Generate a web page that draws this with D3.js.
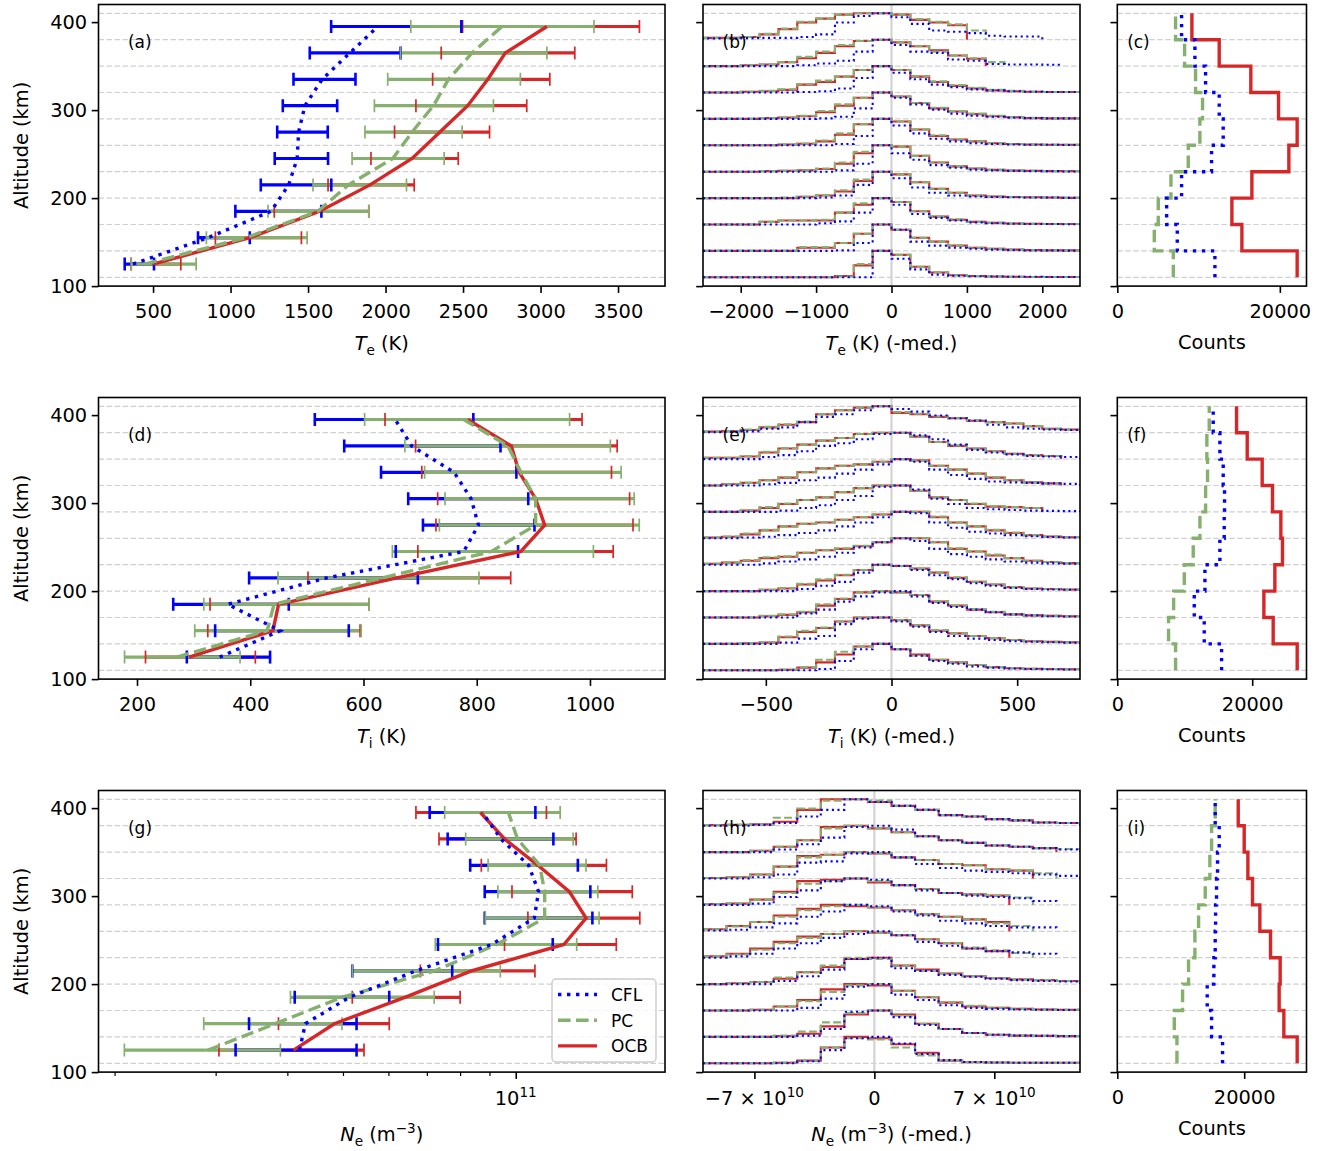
<!DOCTYPE html>
<html>
<head>
<meta charset="utf-8">
<script src="https://cdn.jsdelivr.net/npm/d3@7"></script>
<style>
  body { margin: 0; background: #fff; }
  svg { font-family: "DejaVu Sans", sans-serif; }
</style>
</head>
<body>
<div id="container"></div>
<script>
/* DATA */
const altCenters = [125, 155, 185, 215, 245, 275, 305, 335, 365, 395];
const altEdges = [110, 140, 170, 200, 230, 260, 290, 320, 350, 380, 410];
const seriesNames = ["CFL", "PC", "OCB"];

// (a) Te profiles: median and error bar limits
const teCflMed = [370, 855, 1261, 1375, 1430, 1439, 1480, 1591, 1770, 1950];
const teCflLo  = [317, 790, 1031, 1195, 1285, 1301, 1337, 1406, 1511, 1649];
const teCflHi  = [506, 1124, 1586, 1650, 1629, 1627, 1688, 1806, 2097, 2489];
const tePcMed  = [446, 1100, 1563, 1760, 2047, 2171, 2309, 2406, 2558, 2751];
const tePcLo   = [360, 844, 1242, 1532, 1784, 1867, 1928, 2014, 2097, 2163];
const tePcHi   = [778, 1494, 1892, 2135, 2378, 2494, 2696, 2870, 3041, 3345];
const teOcbMed = [500, 1124, 1575, 1900, 2171, 2351, 2530, 2660, 2773, 3041];
const teOcbLo  = [358, 902, 1282, 1629, 1906, 2058, 2196, 2304, 2359, 2497];
const teOcbHi  = [679, 1457, 1892, 2185, 2469, 2671, 2911, 3060, 3221, 3638];

// (d) Ti profiles
const tiCflMed = [346, 453, 360, 535, 777, 803, 790, 760, 685, 656];
const tiCflLo  = [288, 338, 264, 398, 657, 705, 679, 631, 566, 514];
const tiCflHi  = [435, 574, 468, 696, 873, 902, 891, 870, 842, 794];
const tiPcMed  = [270, 430, 442, 633, 826, 904, 904, 878, 855, 777];
const tiPcLo   = [178, 302, 318, 449, 651, 734, 744, 708, 673, 602];
const tiPcHi   = [382, 596, 610, 804, 1006, 1087, 1078, 1055, 1036, 964];
const tiOcbMed = [292, 440, 450, 659, 878, 920, 904, 875, 861, 784];
const tiOcbLo  = [215, 325, 329, 502, 696, 728, 731, 703, 692, 638];
const tiOcbHi  = [409, 594, 610, 860, 1041, 1076, 1070, 1038, 1048, 986];

// (g) Ne profiles (m^-3)
const neCflMed = [4.20e10, 4.30e10, 5.13e10, 6.70e10, 9.08e10, 1.077e11, 1.096e11, 1.053e11, 9.42e10, 8.75e10];
const neCflLo  = [3.25e10, 3.43e10, 4.12e10, 5.19e10, 7.32e10, 8.83e10, 8.83e10, 8.33e10, 7.61e10, 7.08e10];
const neCflHi  = [5.28e10, 5.28e10, 6.02e10, 7.75e10, 1.160e11, 1.360e11, 1.349e11, 1.283e11, 1.163e11, 1.082e11];
const nePcMed  = [2.91e10, 3.81e10, 4.98e10, 7.22e10, 9.26e10, 1.123e11, 1.123e11, 1.101e11, 1.007e11, 9.71e10];
const nePcLo   = [2.08e10, 2.86e10, 4.05e10, 5.19e10, 7.24e10, 8.85e10, 9.31e10, 8.95e10, 8.18e10, 7.52e10];
const nePcHi   = [3.89e10, 4.98e10, 7.21e10, 9.40e10, 1.277e11, 1.397e11, 1.390e11, 1.326e11, 1.259e11, 1.195e11];
const neOcbMed = [4.10e10, 4.83e10, 6.41e10, 8.37e10, 1.213e11, 1.326e11, 1.240e11, 1.093e11, 9.56e10, 8.68e10];
const neOcbLo  = [3.04e10, 3.86e10, 5.19e10, 6.82e10, 9.56e10, 1.050e11, 9.85e10, 8.71e10, 7.35e10, 6.70e10];
const neOcbHi  = [5.44e10, 6.02e10, 8.00e10, 1.080e11, 1.497e11, 1.645e11, 1.596e11, 1.439e11, 1.274e11, 1.131e11];

// (b) Te histograms (peak-normalised), 20 bins of 250 K from -2500 K, one row per altitude bin
const teHistStart = -2500, teHistWidth = 250;
const teHistCFL = [
  [0,0,0,0,0,0,0,0,0,1,.7,.3,.1,.06,.04,.03,.02,.02,.01,.01],
  [0,0,0,0,0,0,0,.02,.3,1,.8,.35,.2,.12,.08,.05,.03,.02,.02,.01],
  [0,0,0,0,0,0,.05,.12,.45,1,.75,.4,.25,.15,.08,.05,.03,.02,.02,.01],
  [0,0,0,0,0,0,.02,.1,.5,1,.75,.4,.2,.1,.06,.04,.03,.02,.02,.01],
  [0,0,0,0,0,0,0,.05,.3,1,.7,.45,.25,.15,.08,.05,.03,.02,.02,.01],
  [0,0,0,0,0,0,0,.05,.35,1,.75,.45,.25,.15,.08,.05,.03,.02,.02,.01],
  [0,0,0,0,0,0,.02,.08,.4,1,.8,.55,.35,.2,.12,.08,.05,.03,.02,.02],
  [0,0,0,0,0,.02,.05,.15,.55,1,.75,.5,.3,.2,.12,.08,.05,.03,.02,.02],
  [0,0,0,0,0,.03,.1,.2,.55,1,.8,.55,.5,.25,.2,.08,.06,.06,.05,null],
  [.05,.05,.06,.07,.07,.1,.2,.65,.9,1,.85,.6,.35,.3,.25,.15,.12,.12,null,null]
];
const teHistPC = [
  [0,0,0,0,0,0,0,.03,.5,1,.85,.4,.2,.08,.05,.03,.02,.01,.01,.01],
  [0,0,0,0,0,.15,.15,.3,.65,1,.8,.5,.35,.2,.12,.08,.05,.03,.02,.02],
  [0,0,0,.1,.15,.15,.18,.45,.8,1,.85,.5,.3,.2,.1,.06,.04,.03,.02,.02],
  [0,0,0,0,.02,.05,.12,.3,.7,1,.9,.6,.35,.2,.1,.06,.04,.03,.02,.01],
  [0,0,0,.02,.03,.05,.12,.35,.75,1,.95,.6,.35,.2,.12,.07,.05,.03,.02,.02],
  [0,0,0,0,.03,.07,.18,.45,.8,1,.9,.6,.38,.22,.15,.08,.05,.03,.02,.02],
  [0,0,0,.03,.05,.12,.3,.55,.8,1,.85,.6,.42,.3,.2,.12,.07,.04,.02,.02],
  [0,0,.03,.06,.12,.32,.45,.6,.85,1,.85,.62,.42,.28,.18,.1,.06,.03,.02,.02],
  [0,0,.03,.06,.15,.35,.55,.8,.95,1,.9,.75,.55,.4,.3,.15,null,null,null,null],
  [.07,.07,.1,.22,.42,.68,.8,.95,1,1,.95,.78,.68,.58,.35,null,null,null,null,null]
];
const teHistOCB = [
  [0,0,0,0,0,0,0,.05,.45,1,.85,.4,.18,.08,.05,.03,.02,.01,.01,.01],
  [0,0,0,0,0,.12,.12,.3,.65,1,.8,.5,.35,.2,.12,.08,.05,.03,.02,.02],
  [0,0,0,.1,.15,.15,.15,.45,.75,1,.85,.5,.3,.18,.1,.06,.04,.03,.02,.02],
  [0,0,0,0,0,.05,.1,.25,.65,1,.9,.6,.35,.2,.1,.06,.04,.03,.02,.01],
  [0,0,0,.02,.03,.05,.1,.3,.7,1,.95,.6,.35,.2,.12,.07,.04,.03,.02,.02],
  [0,0,0,0,.03,.06,.15,.4,.8,1,.9,.6,.35,.22,.15,.08,.05,.03,.02,.02],
  [0,0,0,.03,.05,.1,.25,.5,.8,1,.85,.6,.4,.28,.18,.1,.06,.03,.02,.02],
  [0,0,.03,.05,.1,.3,.4,.6,.85,1,.85,.6,.4,.25,.15,.08,.05,.03,.02,.02],
  [0,0,.03,.06,.15,.3,.5,.75,.95,1,.9,.75,.6,.4,.28,null,null,null,null,null],
  [.07,.07,.1,.2,.4,.65,.8,.95,1,1,.95,.75,.65,.55,null,null,null,null,null,null]
];

// (e) Ti histograms, 20 bins of 75 K from -750 K
const tiHistStart = -750, tiHistWidth = 75;
const tiHistCFL = [
  [0,0,0,0,0,0,.05,.35,.8,1,.8,.55,.35,.25,.15,.1,.07,.05,.04,.03],
  [0,0,0,0,.05,.2,.3,.75,.95,1,.85,.65,.45,.3,.2,.15,.1,.08,.06,.05],
  [0,0,0,0,0,.15,.3,.6,.8,.95,1,.8,.55,.4,.3,.2,.12,.08,.05,.04],
  [0,0,0,0,0,.08,.2,.35,.7,1,.95,.8,.6,.45,.3,.2,.12,.08,.06,.05],
  [0,0,0,.05,.12,.2,.3,.45,.65,.85,1,.9,.6,.4,.3,.2,.12,.08,.05,.04],
  [0,0,.03,.06,.12,.2,.3,.45,.6,.8,1,.95,.6,.4,.25,.18,.12,.08,.05,.03],
  [0,0,0,0,.05,.15,.25,.45,.6,.95,1,.85,.5,.3,.15,.1,.07,.05,.04,.03],
  [0,0,0,.05,.1,.2,.3,.45,.6,.8,1,.9,.6,.4,.25,.15,.12,.1,.08,.06],
  [0,0,0,.08,.15,.3,.5,.6,.75,.95,1,.9,.75,.55,.35,.25,.18,.12,.1,.08],
  [.02,.03,.05,.15,.2,.4,.6,.7,.85,1,.9,.8,.65,.55,.45,.3,.2,.15,.12,.1]
];
const tiHistPC = [
  [0,0,0,0,.03,.12,.4,.7,.9,1,.8,.55,.4,.3,.2,.12,.08,.06,.05,.04],
  [0,0,.03,.06,.28,.5,.62,.85,1,1,.9,.7,.52,.4,.3,.22,.15,.1,.08,.06],
  [0,0,0,.06,.12,.22,.5,.72,.95,1,.95,.85,.62,.45,.32,.22,.12,.08,.06,.05],
  [0,0,0,.05,.12,.28,.45,.62,.8,1,.95,.85,.7,.52,.35,.25,.15,.1,.08,.06],
  [.03,.08,.18,.28,.32,.45,.55,.62,.72,.85,1,1,.85,.62,.5,.38,.25,.15,.1,.06],
  [.03,.07,.18,.32,.45,.55,.62,.7,.8,.9,1,1,.82,.6,.45,.32,.22,.12,.07,.04],
  [0,0,.06,.18,.32,.45,.55,.75,.9,1,1,.8,.55,.45,.32,.22,.18,.15,null,null],
  [0,.05,.1,.2,.32,.5,.65,.75,.8,.9,1,.95,.75,.6,.45,.32,.2,.12,.08,null],
  [.05,.05,.12,.28,.42,.55,.7,.8,.95,1,1,.85,.65,.52,.4,.3,.2,.15,.12,null],
  [.04,.06,.12,.22,.32,.42,.7,.85,.95,1,.78,.72,.62,.55,.48,.4,.35,.25,.15,.12]
];
const tiHistOCB = [
  [0,0,0,0,.02,.1,.3,.6,.9,1,.8,.6,.4,.3,.2,.12,.08,.06,.05,.04],
  [0,0,.02,.05,.25,.45,.6,.85,1,1,.9,.7,.5,.4,.3,.22,.15,.1,.08,.06],
  [0,0,0,.05,.1,.2,.45,.7,.95,1,.95,.85,.6,.45,.3,.2,.12,.08,.06,.05],
  [0,0,0,.05,.1,.25,.4,.6,.8,1,.95,.85,.7,.5,.35,.25,.15,.1,.08,.06],
  [.03,.08,.15,.25,.3,.45,.55,.6,.7,.85,1,1,.85,.6,.5,.35,.25,.15,.1,.06],
  [.03,.06,.15,.3,.45,.55,.6,.7,.8,.9,1,1,.8,.6,.45,.3,.2,.12,.07,.04],
  [0,0,.05,.15,.3,.45,.55,.75,.9,1,1,.8,.55,.45,.3,.2,.18,.15,null,null],
  [0,.05,.1,.2,.3,.5,.65,.75,.8,.9,1,.95,.75,.6,.45,.3,.2,.12,.08,null],
  [.05,.05,.1,.25,.4,.55,.7,.8,.95,1,1,.85,.65,.5,.4,.3,.2,.15,.12,null],
  [.04,.06,.1,.2,.3,.4,.7,.85,.95,1,.75,.7,.6,.55,.45,.4,.35,.25,.15,.12]
];

// (h) Ne histograms, 16 bins of 1.375e10 m^-3 from -1e11
const neHistStart = -1e11, neHistWidth = 1.375e10;
const neHistCFL = [
  [0,0,0,0,.08,.5,.95,1,.75,.35,.12,.05,.03,.02,.02,.02],
  [0,0,0,0,.05,.3,.95,1,.75,.45,.3,.15,.08,.05,.04,.03],
  [0,0,0,0,.1,.45,.9,1,.6,.4,.2,.1,.06,.04,.03,.02],
  [0,0,0,.12,.3,.55,.95,1,.6,.5,.35,.28,.2,.15,.12,.1],
  [0,.05,.15,.35,.55,.75,.9,1,.85,.6,.45,.35,.25,.2,.15,null],
  [.03,.06,.15,.3,.55,.75,1,.95,.75,.6,.4,.3,.2,.15,.15,null],
  [0,0,.05,.3,.55,.9,1,.95,.75,.55,.45,.35,.3,.25,.15,null],
  [0,0,.05,.15,.6,.65,.95,1,.8,.55,.4,.3,.25,.2,.15,.1],
  [0,0,0,.1,.3,.55,.95,1,.85,.6,.45,.35,.25,.2,.15,.1],
  [0,0,.03,.1,.35,.6,1,.9,.75,.6,.4,.35,.25,.2,.12,.1]
];
const neHistPC = [
  [0,0,0,.03,.1,.6,.95,.9,.6,.3,.1,.04,.03,.02,.02,.02],
  [0,0,0,.05,.2,.55,.9,1,.8,.5,.3,.15,.08,.05,.04,.03],
  [0,0,.03,.15,.35,.7,.95,1,.75,.5,.32,.18,.1,.06,.04,.03],
  [0,.03,.08,.25,.45,.7,1,.95,.7,.5,.4,.3,.22,.18,.15,.12],
  [.05,.12,.3,.55,.75,.9,1,.95,.85,.7,.55,.38,.28,.18,null,null],
  [.08,.18,.35,.55,.8,.95,1,.9,.8,.65,.55,.45,.3,.2,null,null],
  [.03,.05,.2,.45,.8,.9,1,.9,.75,.6,.45,.4,.35,.28,null,null],
  [.02,.05,.15,.45,.8,.9,1,.95,.8,.7,.55,.5,.35,.3,.2,null],
  [0,0,.05,.2,.45,.9,1,.9,.75,.6,.45,.35,.25,.2,.15,.12],
  [.02,.03,.05,.3,.65,.95,1,.95,.75,.6,.4,.35,.25,.2,.12,.1]
];
const neHistOCB = [
  [0,0,0,.02,.1,.6,1,.95,.72,.4,.1,.04,.03,.02,.02,.02],
  [0,0,0,.03,.12,.4,.85,1,.85,.5,.3,.15,.08,.05,.04,.03],
  [0,0,.03,.15,.4,.8,1,.95,.75,.5,.3,.15,.1,.06,.04,.03],
  [0,.03,.08,.2,.45,.65,.95,1,.7,.55,.4,.3,.22,.18,.15,.12],
  [.05,.15,.35,.6,.8,.9,1,.95,.85,.7,.55,.35,.25,null,null,null],
  [.08,.2,.35,.6,.85,1,.95,.9,.8,.65,.55,.45,.35,null,null,null],
  [.03,.05,.2,.5,.9,.95,1,.85,.75,.6,.45,.4,.35,null,null,null],
  [.02,.05,.15,.45,.85,.9,1,.95,.8,.7,.55,.5,.35,.3,null,null],
  [0,0,.05,.2,.45,.95,1,.9,.75,.6,.45,.35,.25,.2,.15,null],
  [.02,.03,.05,.15,.6,1,1,.9,.75,.6,.4,.35,.25,.2,.12,.1]
];

// (c), (f), (i) counts per altitude bin (110-140 ... 380-410 km)
const teCountsCFL = [12010, 7380, 6070, 7910, 11600, 13030, 12540, 10860, 9550, 7910];
const teCountsPC  = [6890, 4550, 5040, 6600, 8730, 10160, 10490, 9630, 8280, 7170];
const teCountsOCB = [22130, 15330, 14100, 16560, 21110, 22130, 19840, 16430, 12540, 9180];
const tiCountsCFL = [15460, 12890, 11410, 12990, 15210, 15850, 15900, 15700, 15210, 14220];
const tiCountsPC  = [8640, 7600, 8350, 9930, 11260, 12250, 13090, 13380, 13280, 13630];
const tiCountsOCB = [26670, 23110, 21730, 23360, 24490, 24250, 23010, 21480, 19260, 17680];
const neCountsCFL = [16590, 14860, 14170, 15220, 15430, 15490, 15640, 15800, 16060, 15430];
const neCountsPC  = [9400, 8980, 10290, 11230, 12230, 12810, 13860, 14590, 14860, 15430];
const neCountsOCB = [28350, 26250, 25510, 25670, 24150, 22470, 21310, 20580, 20000, 19060];

/* LAYOUT AND STYLE */
const width = 1338, height = 1151;
const colX = [[98.5, 665], [703, 1080], [1117.3, 1306.5]];
const rowTop = [4.5, 397.5, 790.5];
const rowH = 281.6;
const fontSize = 19.4, smallFont = 13.6, panelFont = 17;
const colors = { CFL: "#0000ff", PC: "#86b06e", OCB: "#d62728" };
const lw = 3.4, histLw = 2.1;
const dashes = {
  CFL: w => `${w},${w * 1.65}`,
  PC: w => `${w * 3.7},${w * 1.6}`,
  OCB: w => null
};

const svg = d3.select("#container")
  .append("svg")
  .attr("width", width)
  .attr("height", height);

svg.append("rect").attr("width", width).attr("height", height).attr("fill", "#fff");

// write text with sub/superscripts as tspans
function richText(sel, parts) {
  let cur = 0;
  parts.forEach(p => {
    const t = sel.append("tspan").text(p.t);
    const shift = p.shift || 0;
    if (shift !== cur) t.attr("dy", shift - cur);
    cur = shift;
    if (p.size) t.attr("font-size", p.size);
    if (p.italic) t.attr("font-style", "italic");
  });
  return sel;
}

let clipId = 0;
function makePanel(col, row, x) {
  const [x0, x1] = colX[col];
  const top = rowTop[row], bottom = rowTop[row] + rowH;
  x.range([x0, x1]);
  const y = d3.scaleLinear().domain([100, 420]).range([bottom, top]);
  const g = svg.append("g");
  const id = "clip" + (clipId++);
  g.append("clipPath").attr("id", id)
    .append("rect").attr("x", x0).attr("y", top).attr("width", x1 - x0).attr("height", rowH);

  // dashed grid at altitude bin edges
  g.selectAll(".grid").data(altEdges).join("line")
    .attr("x1", x0).attr("x2", x1)
    .attr("y1", d => y(d)).attr("y2", d => y(d))
    .attr("stroke", "#d0d0d0").attr("stroke-width", 1.2)
    .attr("stroke-dasharray", "5.5,2.5");

  const plot = g.append("g").attr("clip-path", `url(#${id})`);
  return { g, plot, x, y, x0, x1, top, bottom, col, row };
}

function styleAxis(ax) {
  ax.select(".domain").remove();
  ax.selectAll(".tick line").attr("stroke", "#000").attr("stroke-width", 1.6);
  ax.selectAll(".tick text").attr("fill", "#000")
    .attr("font-size", fontSize).attr("font-family", "DejaVu Sans");
}

function finishPanel(p, xTicks, xFormat, label, letter) {
  const { g, x, y, x0, x1, top, bottom, col } = p;
  // y axis
  const yAx = g.append("g").attr("transform", `translate(${x0},0)`)
    .call(d3.axisLeft(y).tickValues([100, 200, 300, 400])
      .tickSize(6.8).tickPadding(4.5)
      .tickFormat(col === 0 ? d3.format("d") : ""));
  styleAxis(yAx);

  // x axis
  const xAx = g.append("g").attr("transform", `translate(0,${bottom})`)
    .call(d3.axisBottom(x).tickValues(xTicks).tickSize(6.8).tickPadding(6.8)
      .tickFormat(xFormat ? xFormat : ""));
  styleAxis(xAx);
  xAx.selectAll(".tick text").attr("dy", null).attr("y", 32).attr("dominant-baseline", null);

  // frame
  g.append("rect").attr("x", x0).attr("y", top)
    .attr("width", x1 - x0).attr("height", bottom - top)
    .attr("fill", "none").attr("stroke", "#000").attr("stroke-width", 1.6);

  // panel letter
  g.append("text").attr("x", x0 + (x1 - x0) * 0.052).attr("y", top + 43)
    .attr("font-size", panelFont).text(letter);

  // x label
  const t = g.append("text").attr("x", (x0 + x1) / 2).attr("y", bottom + label.off)
    .attr("text-anchor", "middle").attr("font-size", fontSize);
  richText(t, label.parts);

  if (col === 0) {
    g.append("text")
      .attr("transform", `translate(28,${(top + bottom) / 2}) rotate(-90)`)
      .attr("text-anchor", "middle").attr("font-size", fontSize)
      .text("Altitude (km)");
  }
  return xAx;
}

// profile panel: error bars + median lines
function drawProfile(p, series) {
  const { plot, x, y } = p;
  const barOrder = ["OCB", "CFL", "PC"];
  barOrder.forEach(name => {
    const s = series[name];
    plot.append("g").selectAll("line").data(altCenters).join("line")
      .attr("x1", (d, i) => x(s.lo[i])).attr("x2", (d, i) => x(s.hi[i]))
      .attr("y1", d => y(d)).attr("y2", d => y(d))
      .attr("stroke", colors[name]).attr("stroke-width", 3.2);
  });
  barOrder.forEach(name => {
    const s = series[name];
    const caps = altCenters.flatMap((d, i) => [{ a: d, v: s.lo[i] }, { a: d, v: s.hi[i] }]);
    plot.append("g").selectAll("line").data(caps).join("line")
      .attr("x1", d => x(d.v)).attr("x2", d => x(d.v))
      .attr("y1", d => y(d.a) - 6.5).attr("y2", d => y(d.a) + 6.5)
      .attr("stroke", colors[name]).attr("stroke-width", name === "CFL" ? 2.6 : 1.7);
  });
  ["OCB", "PC", "CFL"].forEach(name => {
    const s = series[name];
    const line = d3.line().x((d, i) => x(s.med[i])).y(d => y(d));
    plot.append("path").datum(altCenters)
      .attr("d", line)
      .attr("fill", "none")
      .attr("stroke", colors[name]).attr("stroke-width", lw)
      .attr("stroke-dasharray", dashes[name](lw));
  });
}

// stacked step histograms
function drawHists(p, start, w, hists) {
  const { plot, x, y } = p;
  plot.append("line")
    .attr("x1", x(0)).attr("x2", x(0)).attr("y1", p.top).attr("y2", p.bottom)
    .attr("stroke", "#d3d3d3").attr("stroke-width", 2.2);
  ["OCB", "PC", "CFL"].forEach(name => {
    hists[name].forEach((vals, r) => {
      const base = altEdges[r];
      const pts = [];
      let last = start;
      for (let k = 0; k < vals.length; k++) {
        if (vals[k] === null) break;
        const xl = start + k * w, xr = xl + w;
        if (k === 0) pts.push([xl, base]);
        pts.push([xl, base + vals[k] * 30], [xr, base + vals[k] * 30]);
        last = xr;
      }
      pts.push([last, base]);
      plot.append("path").datum(pts)
        .attr("d", d3.line().x(d => x(d[0])).y(d => y(d[1])))
        .attr("fill", "none")
        .attr("stroke", colors[name]).attr("stroke-width", histLw)
        .attr("stroke-dasharray", dashes[name](histLw));
    });
  });
}

// counts step profile
function drawCounts(p, counts) {
  const { plot, x, y } = p;
  ["OCB", "PC", "CFL"].forEach(name => {
    const pts = counts[name].flatMap((c, k) => [[c, altEdges[k]], [c, altEdges[k + 1]]]);
    plot.append("path").datum(pts)
      .attr("d", d3.line().x(d => x(d[0])).y(d => y(d[1])))
      .attr("fill", "none")
      .attr("stroke", colors[name]).attr("stroke-width", lw)
      .attr("stroke-dasharray", dashes[name](lw));
  });
}

const sub = t => ({ t, size: smallFont, shift: 4.5 });
const sup = t => ({ t, size: smallFont, shift: -8 });
const teLab = [{ t: "T", italic: true }, sub("e"), { t: " (K)" }];
const tiLab = [{ t: "T", italic: true }, sub("i"), { t: " (K)" }];
const neLab = [{ t: "N", italic: true }, sub("e"), { t: " (m" }, sup("−3"), { t: ")" }];
const countsLab = { off: 63, parts: [{ t: "Counts" }] };

/* ROW 1: Te */
const pA = makePanel(0, 0, d3.scaleLinear().domain([148, 3803]));
drawProfile(pA, {
  CFL: { med: teCflMed, lo: teCflLo, hi: teCflHi },
  PC: { med: tePcMed, lo: tePcLo, hi: tePcHi },
  OCB: { med: teOcbMed, lo: teOcbLo, hi: teOcbHi }
});
finishPanel(pA, [500, 1000, 1500, 2000, 2500, 3000, 3500], d3.format("d"), { off: 64, parts: teLab }, "(a)");

const pB = makePanel(1, 0, d3.scaleLinear().domain([-2500, 2500]));
drawHists(pB, teHistStart, teHistWidth, { CFL: teHistCFL, PC: teHistPC, OCB: teHistOCB });
finishPanel(pB, [-2000, -1000, 0, 1000, 2000], d3.format("d"),
  { off: 64, parts: [...teLab, { t: " (-med.)" }] }, "(b)");

const pC = makePanel(2, 0, d3.scaleLinear().domain([0, 23280]));
drawCounts(pC, { CFL: teCountsCFL, PC: teCountsPC, OCB: teCountsOCB });
finishPanel(pC, [0, 20000], d3.format("d"), countsLab, "(c)");

/* ROW 2: Ti */
const pD = makePanel(0, 1, d3.scaleLinear().domain([132, 1132.5]));
drawProfile(pD, {
  CFL: { med: tiCflMed, lo: tiCflLo, hi: tiCflHi },
  PC: { med: tiPcMed, lo: tiPcLo, hi: tiPcHi },
  OCB: { med: tiOcbMed, lo: tiOcbLo, hi: tiOcbHi }
});
finishPanel(pD, [200, 400, 600, 800, 1000], d3.format("d"), { off: 64, parts: tiLab }, "(d)");

const pE = makePanel(1, 1, d3.scaleLinear().domain([-750, 750]));
drawHists(pE, tiHistStart, tiHistWidth, { CFL: tiHistCFL, PC: tiHistPC, OCB: tiHistOCB });
finishPanel(pE, [-500, 0, 500], d3.format("d"),
  { off: 64, parts: [...tiLab, { t: " (-med.)" }] }, "(e)");

const pF = makePanel(2, 1, d3.scaleLinear().domain([0, 28050]));
drawCounts(pF, { CFL: tiCountsCFL, PC: tiCountsPC, OCB: tiCountsOCB });
finishPanel(pF, [0, 20000], d3.format("d"), countsLab, "(f)");

/* ROW 3: Ne */
const pG = makePanel(0, 2, d3.scaleLog().domain([1.875e10, 1.82e11]));
drawProfile(pG, {
  CFL: { med: neCflMed, lo: neCflLo, hi: neCflHi },
  PC: { med: nePcMed, lo: nePcLo, hi: nePcHi },
  OCB: { med: neOcbMed, lo: neOcbLo, hi: neOcbHi }
});
finishPanel(pG, [1e11], null, { off: 69, parts: neLab }, "(g)");
// minor log ticks
const minorAx = pG.g.append("g").attr("transform", `translate(0,${pG.bottom})`)
  .call(d3.axisBottom(pG.x).tickValues([2e10, 3e10, 4e10, 5e10, 6e10, 7e10, 8e10, 9e10])
    .tickSize(3.9).tickFormat(""));
minorAx.select(".domain").remove();
minorAx.selectAll(".tick line").attr("stroke", "#000").attr("stroke-width", 1.2);
richText(pG.g.append("text").attr("x", pG.x(1e11)).attr("y", pG.bottom + 33)
  .attr("text-anchor", "middle").attr("font-size", fontSize),
  [{ t: "10" }, sup("11")]);

const pH = makePanel(1, 2, d3.scaleLinear().domain([-1e11, 1.2e11]));
drawHists(pH, neHistStart, neHistWidth, { CFL: neHistCFL, PC: neHistPC, OCB: neHistOCB });
finishPanel(pH, [-7e10, 0, 7e10], null,
  { off: 69, parts: [...neLab, { t: " (-med.)" }] }, "(h)");
const neTickLabels = [
  { v: -7e10, parts: [{ t: "−7 × 10" }, sup("10")] },
  { v: 0, parts: [{ t: "0" }] },
  { v: 7e10, parts: [{ t: "7 × 10" }, sup("10")] }
];
neTickLabels.forEach(d => {
  richText(pH.g.append("text").attr("x", pH.x(d.v)).attr("y", pH.bottom + 33)
    .attr("text-anchor", "middle").attr("font-size", fontSize), d.parts);
});

const pI = makePanel(2, 2, d3.scaleLinear().domain([0, 29820]));
drawCounts(pI, { CFL: neCountsCFL, PC: neCountsPC, OCB: neCountsOCB });
finishPanel(pI, [0, 20000], d3.format("d"), countsLab, "(i)");

/* LEGEND in (g) */
const leg = svg.append("g").attr("transform", "translate(552,979)");
leg.append("rect").attr("width", 104).attr("height", 83).attr("rx", 4)
  .attr("fill", "#fff").attr("fill-opacity", 0.8)
  .attr("stroke", "#cccccc").attr("stroke-width", 1.4);
seriesNames.forEach((name, i) => {
  const yy = 15.5 + i * 25.7;
  leg.append("line").attr("x1", 6).attr("x2", 45).attr("y1", yy).attr("y2", yy)
    .attr("stroke", colors[name]).attr("stroke-width", lw)
    .attr("stroke-dasharray", dashes[name](lw));
  leg.append("text").attr("x", 59).attr("y", yy + 6.3)
    .attr("font-size", panelFont).text(name);
});
</script>
</body>
</html>
